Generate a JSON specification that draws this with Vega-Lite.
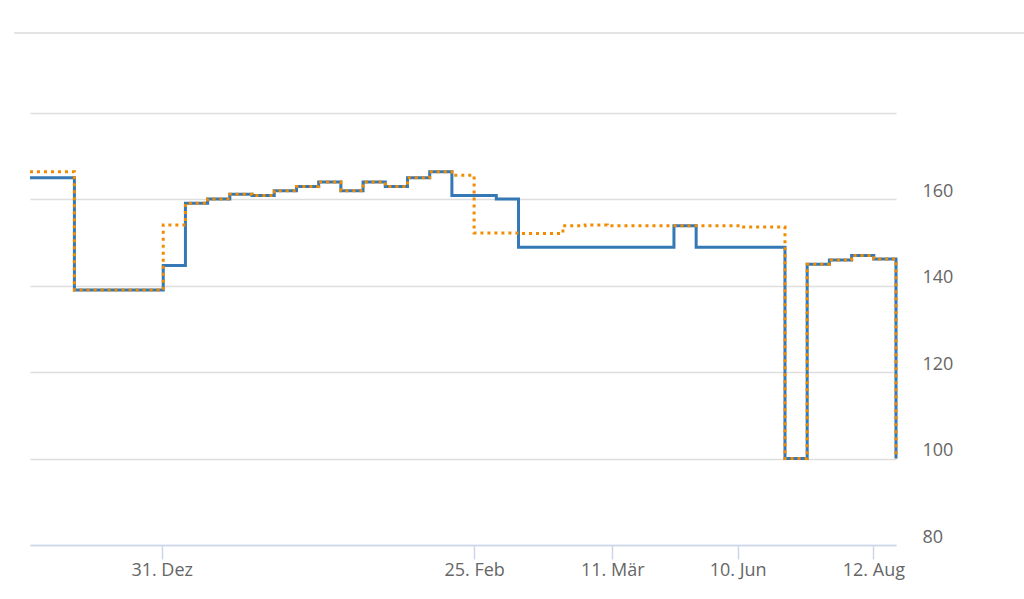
{
  "$schema": "https://vega.github.io/schema/vega-lite/v6.json",
  "autosize": {"type": "none"},
  "width": 866,
  "height": 432,
  "padding": {"left": 30, "top": 113, "right": 128, "bottom": 54},
  "background": "#ffffff",
  "config": {
    "view": {"stroke": null},
    "font": "Open Sans",
    "axis": {"labelFont": "Open Sans", "labelFontSize": 18, "labelColor": "#666666", "title": null}
  },
  "data": {
    "values": [
      {"i": 0, "s": "A", "v": 165.0}, {"i": 1, "s": "A", "v": 165.0}, {"i": 2, "s": "A", "v": 139.0}, {"i": 3, "s": "A", "v": 139.0},
      {"i": 4, "s": "A", "v": 139.0}, {"i": 5, "s": "A", "v": 139.0}, {"i": 6, "s": "A", "v": 144.7}, {"i": 7, "s": "A", "v": 159.1},
      {"i": 8, "s": "A", "v": 160.1}, {"i": 9, "s": "A", "v": 161.2}, {"i": 10, "s": "A", "v": 160.9}, {"i": 11, "s": "A", "v": 162.0},
      {"i": 12, "s": "A", "v": 163.0}, {"i": 13, "s": "A", "v": 164.0}, {"i": 14, "s": "A", "v": 162.0}, {"i": 15, "s": "A", "v": 164.0},
      {"i": 16, "s": "A", "v": 163.0}, {"i": 17, "s": "A", "v": 165.0}, {"i": 18, "s": "A", "v": 166.4}, {"i": 19, "s": "A", "v": 160.9},
      {"i": 20, "s": "A", "v": 160.9}, {"i": 21, "s": "A", "v": 160.1}, {"i": 22, "s": "A", "v": 148.9}, {"i": 23, "s": "A", "v": 148.9},
      {"i": 24, "s": "A", "v": 148.9}, {"i": 25, "s": "A", "v": 148.9}, {"i": 26, "s": "A", "v": 148.9}, {"i": 27, "s": "A", "v": 148.9},
      {"i": 28, "s": "A", "v": 148.9}, {"i": 29, "s": "A", "v": 153.9}, {"i": 30, "s": "A", "v": 148.9}, {"i": 31, "s": "A", "v": 148.9},
      {"i": 32, "s": "A", "v": 148.9}, {"i": 33, "s": "A", "v": 148.9}, {"i": 34, "s": "A", "v": 100.0}, {"i": 35, "s": "A", "v": 145.0},
      {"i": 36, "s": "A", "v": 146.0}, {"i": 37, "s": "A", "v": 147.0}, {"i": 38, "s": "A", "v": 146.2}, {"i": 39, "s": "A", "v": 100.0},
      {"i": 0, "s": "B", "v": 166.4}, {"i": 1, "s": "B", "v": 166.4}, {"i": 2, "s": "B", "v": 139.0}, {"i": 3, "s": "B", "v": 139.0},
      {"i": 4, "s": "B", "v": 139.0}, {"i": 5, "s": "B", "v": 139.0}, {"i": 6, "s": "B", "v": 154.1}, {"i": 7, "s": "B", "v": 159.1},
      {"i": 8, "s": "B", "v": 160.1}, {"i": 9, "s": "B", "v": 161.2}, {"i": 10, "s": "B", "v": 160.9}, {"i": 11, "s": "B", "v": 162.0},
      {"i": 12, "s": "B", "v": 163.0}, {"i": 13, "s": "B", "v": 164.0}, {"i": 14, "s": "B", "v": 162.0}, {"i": 15, "s": "B", "v": 164.0},
      {"i": 16, "s": "B", "v": 163.0}, {"i": 17, "s": "B", "v": 165.0}, {"i": 18, "s": "B", "v": 166.4}, {"i": 19, "s": "B", "v": 165.6},
      {"i": 20, "s": "B", "v": 152.2}, {"i": 21, "s": "B", "v": 152.2}, {"i": 22, "s": "B", "v": 152.1}, {"i": 23, "s": "B", "v": 152.1},
      {"i": 24, "s": "B", "v": 153.9}, {"i": 25, "s": "B", "v": 154.1}, {"i": 26, "s": "B", "v": 153.9}, {"i": 27, "s": "B", "v": 153.9},
      {"i": 28, "s": "B", "v": 153.9}, {"i": 29, "s": "B", "v": 153.9}, {"i": 30, "s": "B", "v": 153.9}, {"i": 31, "s": "B", "v": 153.9},
      {"i": 32, "s": "B", "v": 153.6}, {"i": 33, "s": "B", "v": 153.6}, {"i": 34, "s": "B", "v": 100.0}, {"i": 35, "s": "B", "v": 145.0},
      {"i": 36, "s": "B", "v": 146.0}, {"i": 37, "s": "B", "v": 147.0}, {"i": 38, "s": "B", "v": 146.2}, {"i": 39, "s": "B", "v": 100.0}
    ]
  },
  "encoding": {
    "x": {
      "field": "i",
      "type": "quantitative",
      "scale": {"domain": [0, 39], "nice": false, "zero": false},
      "axis": {
        "values": [5.93, 20, 26.22, 31.87, 37.98],
        "labelExpr": "datum.value < 10 ? '31. Dez' : datum.value < 23 ? '25. Feb' : datum.value < 29 ? '11. Mär' : datum.value < 35 ? '10. Jun' : '12. Aug'",
        "grid": false,
        "domainColor": "#ccd6eb",
        "domainWidth": 1.5,
        "tickColor": "#ccd6eb",
        "tickWidth": 1.5,
        "tickSize": 14,
        "labelPadding": 2,
        "labelFlush": false,
        "labelOverlap": false
      }
    },
    "y": {
      "field": "v",
      "type": "quantitative",
      "scale": {"domain": [80, 180], "nice": false, "zero": false},
      "axis": {
        "orient": "right",
        "values": [80, 100, 120, 140, 160, 180],
        "labelExpr": "datum.value == 180 ? '' : datum.label",
        "domain": false,
        "ticks": false,
        "grid": true,
        "gridColor": "#dedede",
        "gridWidth": 1.5,
        "labelAlign": "left",
        "labelBaseline": "alphabetic",
        "labelOffset": -3,
        "labelPadding": 26
      }
    }
  },
  "layer": [
    {
      "mark": {"type": "rule", "color": "#e3e3e3", "strokeWidth": 1.5, "clip": false},
      "encoding": {
        "x": {"datum": -0.68},
        "x2": {"datum": 44.8},
        "y": {"datum": 198.5}
      }
    },
    {
      "transform": [{"filter": "datum.s == 'A'"}],
      "mark": {"type": "line", "interpolate": "step-after", "color": "#3479b5", "strokeWidth": 3, "strokeCap": "butt", "strokeJoin": "miter"}
    },
    {
      "transform": [{"filter": "datum.s == 'B'"}],
      "mark": {"type": "line", "interpolate": "step-after", "color": "#f38b00", "strokeWidth": 3, "strokeCap": "butt", "strokeDash": [3, 4]}
    }
  ]
}
